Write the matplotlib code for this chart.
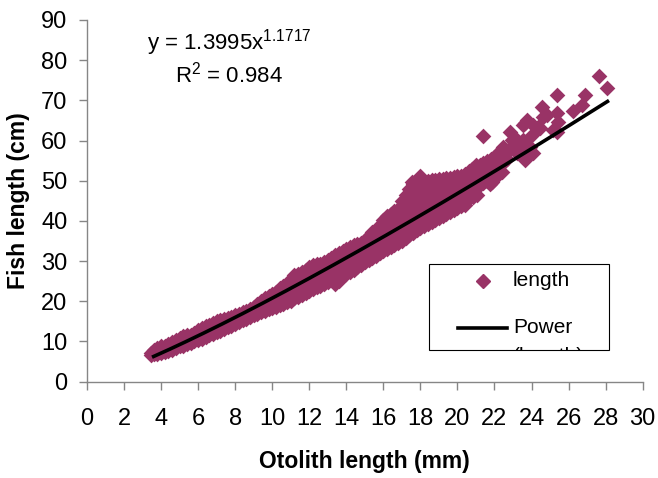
import numpy as np
import matplotlib
matplotlib.use("Agg")
import matplotlib.pyplot as plt
from matplotlib.patches import Rectangle

# otolith length columns (mm) and the fish lengths (cm) at each column
band_x = [3.45, 3.6, 3.8, 4.0, 4.2, 4.4, 4.6, 4.8, 5.0, 5.2, 5.4, 5.6, 5.8, 6.0, 6.2, 6.4,
          6.6, 6.8, 7.0, 7.2, 7.4, 7.6, 7.8, 8.0, 8.2, 8.4, 8.6, 8.8, 9.0, 9.2, 9.4, 9.6,
          9.8, 10.0, 10.2, 10.4, 10.6, 10.8, 11.0, 11.2, 11.4, 11.6, 11.8, 12.0, 12.2, 12.4,
          12.6, 12.8, 13.0, 13.2, 13.4, 13.6, 13.8, 14.0, 14.2, 14.4, 14.6, 14.8, 15.0, 15.2,
          15.4, 15.6, 15.8, 16.0, 16.2, 16.4, 16.6, 16.8, 17.0, 17.2, 17.4, 17.6, 17.8, 18.0,
          18.2, 18.4, 18.6, 18.8, 19.0, 19.2, 19.4, 19.6, 19.8, 20.0, 20.2, 20.4, 20.6, 20.8,
          21.0, 21.2, 21.4, 21.6, 21.8, 22.0, 22.2, 22.4]
band_y = [
    [6.7, 7.1], [6.8, 7.3, 7.8], [7.0, 7.7, 8.4], [7.1, 8.0, 8.8], [7.4, 8.2, 9.0],
    [7.6, 8.6, 9.4], [7.9, 8.8, 9.8], [8.3, 9.3, 10.3], [8.8, 9.8, 10.8], [9.0, 10.1, 11.3],
    [9.3, 10.4, 11.5], [9.6, 10.7, 11.7], [10.0, 11.1, 12.2], [10.4, 11.6, 12.8],
    [10.7, 12.0, 13.3], [11.1, 12.4, 13.8], [11.5, 12.8, 14.2], [11.9, 13.2, 14.6],
    [12.3, 13.7, 15.0], [12.7, 14.0, 15.4], [13.1, 14.4, 15.6], [13.5, 14.7, 15.9],
    [13.9, 15.1, 16.2], [14.4, 15.5, 16.6], [14.8, 15.9, 16.9], [15.3, 16.3, 17.3],
    [15.7, 16.7, 17.6], [16.1, 17.1, 18.1], [16.5, 17.6, 18.7], [16.9, 18.1, 19.3],
    [17.3, 18.6, 20.0], [17.7, 19.2, 20.8], [18.0, 19.6, 21.3], [18.3, 20.0, 21.7],
    [18.6, 20.1, 21.3, 22.4], [19.0, 20.5, 21.8, 23.2], [19.4, 21.0, 22.4, 23.8],
    [19.8, 21.5, 23.0, 24.6], [20.2, 22.0, 23.6, 25.4], [20.7, 22.7, 24.5, 26.5],
    [21.1, 23.1, 24.9, 26.8], [21.6, 23.6, 25.3, 27.2], [22.1, 24.1, 25.9, 27.8],
    [22.6, 24.8, 26.6, 28.6], [23.1, 25.3, 27.0, 29.0], [23.5, 25.6, 27.3, 29.2],
    [23.9, 25.9, 27.6, 29.4], [24.4, 26.4, 27.9, 29.7], [24.9, 26.9, 28.4, 30.2],
    [25.4, 27.4, 29.0, 30.8], [24.4, 26.3, 27.9, 29.6, 31.4], [25.1, 27.0, 28.6, 30.2, 31.9],
    [26.2, 28.0, 29.5, 30.9, 32.4], [26.7, 28.5, 30.0, 31.4, 33.0], [27.3, 29.1, 30.5, 32.0, 33.6],
    [27.9, 29.6, 31.0, 32.4, 33.9], [28.5, 30.1, 31.4, 32.7, 34.2], [29.1, 30.6, 31.8, 33.0, 34.4],
    [29.7, 31.3, 32.5, 33.8, 35.2], [30.2, 31.9, 33.3, 34.6, 36.2], [30.7, 32.5, 34.0, 35.5, 37.2],
    [31.3, 33.1, 34.7, 36.2, 37.8], [31.9, 33.9, 35.6, 37.3, 39.0], [32.5, 34.7, 36.5, 38.4, 40.2],
    [33.0, 35.3, 37.3, 39.2, 41.2], [33.5, 35.8, 37.8, 39.8, 41.8], [34.0, 36.3, 38.4, 40.4, 42.4],
    [34.5, 36.9, 38.9, 41.0, 43.0], [35.1, 37.3, 39.2, 41.1, 43.0, 45.0],
    [35.7, 38.1, 40.2, 42.3, 44.4, 46.5], [36.4, 38.6, 40.5, 42.4, 44.3, 46.2, 48.0],
    [37.0, 39.3, 41.3, 43.3, 45.2, 47.2, 49.2], [37.7, 40.0, 42.1, 44.1, 46.2, 48.2, 50.3],
    [38.3, 40.6, 42.5, 44.5, 46.4, 48.4, 50.3], [38.8, 41.0, 42.8, 44.7, 46.5, 48.3, 50.0],
    [39.3, 41.4, 43.1, 44.9, 46.6, 48.3, 50.0], [39.8, 41.7, 43.4, 45.1, 46.8, 48.5, 50.2],
    [40.3, 42.1, 43.8, 45.4, 47.1, 48.7, 50.3], [40.8, 42.6, 44.1, 45.7, 47.3, 48.8, 50.4],
    [41.3, 43.0, 44.5, 46.0, 47.5, 48.9, 50.4], [41.8, 43.4, 44.9, 46.3, 47.7, 49.2, 50.6],
    [42.3, 43.9, 45.3, 46.7, 48.0, 49.4, 50.8], [42.8, 44.3, 45.7, 47.0, 48.4, 49.7, 51.0],
    [43.3, 45.0, 46.5, 48.1, 49.6, 51.2], [43.8, 45.5, 47.0, 48.6, 50.0, 51.3],
    [44.6, 46.2, 47.6, 49.0, 50.3, 51.6], [47.6, 48.9, 50.1, 51.2, 52.3],
    [48.0, 49.4, 50.6, 51.8, 53.0], [48.6, 50.0, 51.3, 52.5, 53.8], [49.0, 50.4, 51.6, 52.8, 54.0],
    [49.4, 50.8, 52.0, 53.1, 54.3], [49.9, 51.3, 52.5, 53.8, 55.0], [50.3, 51.7, 52.9, 54.2, 55.4],
    [50.8, 52.7, 54.4, 56.0], [51.4, 53.3, 55.0, 56.8], [52.1, 54.2, 56.1, 58.0],
]

# scattered fish outside the dense band
sparse_x = [17.98, 17.55, 20.41, 20.85, 21.08, 21.76, 21.85, 21.36, 22.12, 22.48,
            22.60, 22.84, 22.93, 23.00, 23.20, 23.20, 23.38, 23.56, 23.56, 23.65,
            23.65, 23.74, 23.92, 24.01, 24.10, 24.10, 24.37, 24.46, 24.55, 24.64,
            24.82, 25.18, 25.36, 25.36, 25.36, 25.45, 26.26, 26.71, 26.89, 27.65,
            28.06, 22.70, 23.10]
sparse_y = [51.3, 49.8, 44.0, 45.9, 46.4, 49.2, 49.8, 61.1, 56.0, 58.5,
            57.0, 62.2, 60.2, 59.0, 56.8, 60.1, 57.6, 60.1, 63.9, 55.2,
            64.3, 65.1, 58.5, 61.4, 56.8, 63.9, 63.4, 63.0, 68.4, 65.9,
            66.4, 62.6, 62.2, 66.8, 71.3, 64.7, 67.4, 68.8, 71.3, 76.1,
            73.1, 55.5, 57.8]

# power trendline as printed on the chart
trend_a = 1.3995
trend_b = 1.1717
trend_r2 = 0.984
trend_start, trend_end = 3.6, 28.1

x_ticks = list(range(0, 31, 2))
y_ticks = list(range(0, 91, 10))

plum = '#993366'
axis_grey = '#868686'

plt.rcParams['font.family'] = ['Liberation Sans', 'DejaVu Sans']
plt.rcParams['mathtext.fontset'] = 'custom'
plt.rcParams['mathtext.rm'] = 'Liberation Sans'

otolith = np.concatenate([np.repeat(x, len(ys)) for x, ys in zip(band_x, band_y)] + [sparse_x])
fish = np.concatenate([np.array(ys) for ys in band_y] + [sparse_y])

fig = plt.figure(figsize=(6.58, 4.78), dpi=100)
ax = fig.add_axes([0.1322, 0.2015, 0.8445, 0.7567])

ax.scatter(otolith, fish, marker='D', s=64, color=plum, linewidths=0, zorder=2)

trend_x = np.linspace(trend_start, trend_end, 200)
ax.plot(trend_x, trend_a * trend_x ** trend_b, color='black', lw=2.6, zorder=3)

ax.set_xlim(0, 30)
ax.set_ylim(0, 90)
ax.set_xticks(x_ticks)
ax.set_yticks(y_ticks)
for side in ['top', 'right']:
    ax.spines[side].set_visible(False)
for side in ['left', 'bottom']:
    ax.spines[side].set_color(axis_grey)
    ax.spines[side].set_linewidth(1)
ax.tick_params(axis='both', direction='out', length=6, width=1, color=axis_grey,
               labelsize=17, labelcolor='black')
ax.tick_params(axis='x', pad=13)
ax.tick_params(axis='y', pad=8)

ax.set_xlabel('Otolith length (mm)', fontsize=16.5, fontweight='bold')
ax.set_ylabel('Fish length (cm)', fontsize=16.5, fontweight='bold')
ax.xaxis.label.set_va('center')
ax.yaxis.label.set_va('center')
ax.xaxis.set_label_coords(0.5, -0.222)
ax.yaxis.set_label_coords(-0.124, 0.5)

# equation and R squared
ax.text(7.67, 84.5, r'y = %.4fx$^{\mathrm{%.4f}}$' % (trend_a, trend_b), fontsize=16,
        ha='center', va='center')
ax.text(7.67, 76.3, r'R$^{\mathrm{2}}$ = %.3f' % trend_r2, fontsize=16,
        ha='center', va='center')

# legend box drawn by hand so the second line gets cut off like in the original
box = Rectangle((0.6154, 0.0876), 0.324, 0.2378, transform=ax.transAxes,
                facecolor='white', edgecolor='black', lw=0.8, zorder=5)
ax.add_patch(box)
ax.plot([0.7126], [0.2784], marker='D', markersize=7, color=plum, lw=0,
        transform=ax.transAxes, zorder=6)
ax.text(0.7666, 0.2784, 'length', fontsize=15, transform=ax.transAxes,
        ha='left', va='center', zorder=6)
ax.plot([0.6676, 0.7558], [0.1485, 0.1485], color='black', lw=2.6,
        transform=ax.transAxes, zorder=6)
ax.text(0.7666, 0.1485, 'Power', fontsize=15, transform=ax.transAxes,
        ha='left', va='center', zorder=6)
cut = ax.text(0.7666, 0.069, '(length)', fontsize=15, transform=ax.transAxes,
              ha='left', va='center', zorder=6)
cut.set_clip_path(box)
cut.set_clip_on(True)

fig.savefig('out.png', dpi=100)
